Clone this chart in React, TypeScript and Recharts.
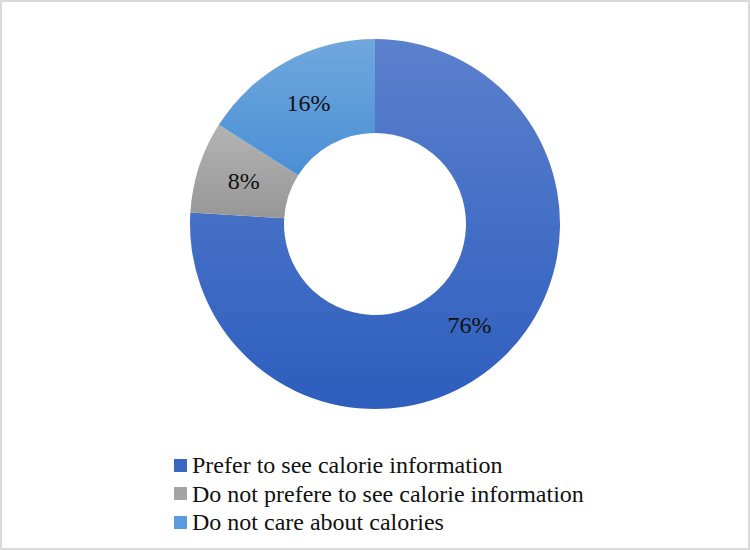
import React from 'react';
import { PieChart, Pie, Cell, Legend } from 'recharts';

// survey answers, in the order the slices run clockwise from 12 o'clock
const categories = [
  'Prefer to see calorie information',
  'Do not prefere to see calorie information',
  'Do not care about calories',
];
const shares = [76, 8, 16];

// [top, bottom] colours of each slice's soft gradient
const sliceColors = [
  ['#5b80cd', '#2d5ebe'],
  ['#b3b3b3', '#979797'],
  ['#70a8dd', '#4a8fd6'],
];
const legendColors = ['#3a66c4', '#a3a3a3', '#5a9bdc'];

const data = categories.map((name, i) => ({ name, value: shares[i] }));

const RAD = Math.PI / 180;
const FONT = '"Liberation Serif", "Times New Roman", serif';

const renderLabel = (props: any) => {
  const { cx, cy, midAngle, innerRadius, outerRadius, value } = props;
  const r = (innerRadius + outerRadius) / 2;
  const x = cx + r * Math.cos(-midAngle * RAD);
  const y = cy + r * Math.sin(-midAngle * RAD);
  return (
    <text x={x} y={y} textAnchor="middle" dominantBaseline="central"
      fontFamily={FONT} fontSize={24} fill="#111">
      {`${value}%`}
    </text>
  );
};

const renderLegend = () => (
  <div style={{ fontFamily: FONT, fontSize: 24, color: '#111', lineHeight: 1 }}>
    {categories.map((c, i) => (
      <div key={c} style={{ display: 'flex', alignItems: 'center', height: 28.5 }}>
        <span style={{
          display: 'inline-block', width: 13, height: 13, marginRight: 5,
          background: legendColors[i],
        }} />
        <span>{c}</span>
      </div>
    ))}
  </div>
);

export default function App() {
  return (
    <div style={{ position: 'fixed', left: 0, top: 0, width: 750, height: 550, background: '#fff' }}>
      <PieChart width={750} height={550} margin={{ top: 0, right: 0, bottom: 0, left: 0 }}>
        <defs>
          {sliceColors.map((c, i) => (
            <linearGradient key={i} id={`slice${i}`} x1="0" y1="0" x2="0" y2="1">
              <stop offset="0%" stopColor={c[0]} />
              <stop offset="100%" stopColor={c[1]} />
            </linearGradient>
          ))}
        </defs>
        <Pie
          data={data}
          dataKey="value"
          nameKey="name"
          cx={375}
          cy={224}
          innerRadius={91}
          outerRadius={185}
          startAngle={90}
          endAngle={-270}
          stroke="none"
          label={renderLabel}
          labelLine={false}
          isAnimationActive={false}
        >
          {data.map((d, i) => (
            <Cell key={d.name} fill={`url(#slice${i})`} />
          ))}
        </Pie>
        <Legend content={renderLegend} wrapperStyle={{ left: 174, top: 451, width: 450 }} />
      </PieChart>
      <div style={{
        position: 'absolute', inset: 0, border: '2px solid #dadada', pointerEvents: 'none',
      }} />
    </div>
  );
}
